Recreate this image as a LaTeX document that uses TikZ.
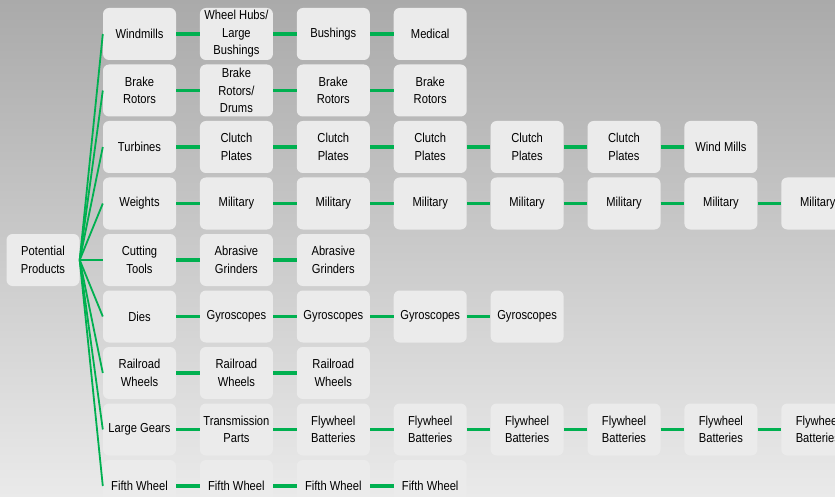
\documentclass[tikz,border=0pt]{standalone}
\usepackage{fontspec}
\setmainfont[FakeStretch=0.86]{Liberation Sans}
\usepackage{tikz}
\usetikzlibrary{positioning}

\definecolor{bgtop}{RGB}{170,170,170}
\definecolor{bgbot}{RGB}{234,234,234}
\definecolor{boxfill}{RGB}{235,235,235}
\definecolor{linkgreen}{RGB}{0,176,80}

\tikzset{every picture/.style={font issue=\fontsize{13}{17.5}},
         font issue/.style={execute at begin picture={#1\selectfont}},
         prod/.style={fill=boxfill, rounded corners=6pt, minimum width=73pt,
                      minimum height=52pt, inner sep=1.5pt, align=center},
         link/.style={linkgreen, line width=3.2pt},
         fan/.style={linkgreen, line width=1.8pt}
        }

% one row of products: #1 row, #2 y, #3 items
\newcommand{\prodrow}[3]{%
  \foreach \t [count=\c] in {#3} {
    \node[prod] (r#1c\c) at ({139.5+96.9*(\c-1)}, #2) {\t};
    \ifnum\c>1 \pgfmathtruncatemacro\p{\c-1}\draw[link] (r#1c\p) -- (r#1c\c);\fi
  }
  \draw[fan] (root.east) -- (r#1c1.west);
}

\begin{document}
\begin{tikzpicture}[x=1pt, y=-1pt]
\useasboundingbox (0,0) rectangle (835,497);
\clip (0,0) rectangle (835,497);
\shade[top color=bgtop, bottom color=bgbot] (0,0) rectangle (835,497);

\node[prod](root) at (43,260){Potential\\Products};

\prodrow{1}{34}{Windmills, {Wheel Hubs/\\Large\\Bushings}, Bushings, Medical}
\prodrow{2}{90.5}{{Brake\\Rotors}, {Brake\\Rotors/\\Drums}, {Brake\\Rotors}, {Brake\\Rotors}}
\prodrow{3}{147}{Turbines, {Clutch\\Plates}, {Clutch\\Plates}, {Clutch\\Plates}, {Clutch\\Plates}, {Clutch\\Plates}, Wind Mills}
\prodrow{4}{203.5}{Weights, Military, Military, Military, Military, Military, Military, Military}
\prodrow{5}{260}{{Cutting\\Tools}, {Abrasive\\Grinders}, {Abrasive\\Grinders}}
\prodrow{6}{316.5}{Dies, Gyroscopes, Gyroscopes, Gyroscopes, Gyroscopes}
\prodrow{7}{373}{{Railroad\\Wheels}, {Railroad\\Wheels}, {Railroad\\Wheels}}
\prodrow{8}{429.5}{Large Gears, {Transmission\\Parts}, {Flywheel\\Batteries}, {Flywheel\\Batteries}, {Flywheel\\Batteries}, {Flywheel\\Batteries}, {Flywheel\\Batteries}, {Flywheel\\Batteries}}
\prodrow{9}{486}{Fifth Wheel, Fifth Wheel, Fifth Wheel, Fifth Wheel}
\end{tikzpicture}
\end{document}
